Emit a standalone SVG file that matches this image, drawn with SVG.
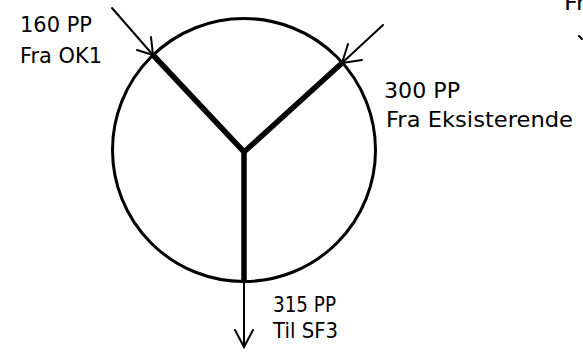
<svg xmlns="http://www.w3.org/2000/svg" width="583" height="352" viewBox="0 0 583 352">
<style>
.t{font-family:"DejaVu Sans","Liberation Sans",sans-serif;font-size:22px;fill:#000}
.thin{stroke:#000;stroke-width:2;fill:none;stroke-linecap:round}
.thick{stroke:#000;stroke-width:5.5;fill:none;stroke-linejoin:miter}
</style>
<rect width="583" height="352" fill="#fff"/>
<g id="node-circle">
<circle cx="244" cy="150" r="131.5" fill="none" stroke="#000" stroke-width="3"/>
</g>
<g id="connectors">
<polyline class="thick" points="153,55 244,152 342,63"/>
<line class="thick" x1="244" y1="150" x2="244" y2="282"/>
<line class="thin" x1="112" y1="8" x2="153" y2="55"/>
<polyline class="thin" points="151,37 153,55 137,50"/>
<line class="thin" x1="383" y1="25" x2="342" y2="63"/>
<polyline class="thin" points="348,44 342,63 362,60"/>
<line class="thin" x1="244" y1="282" x2="244" y2="347"/>
<polyline class="thin" points="235,330 244,347 253,330"/>
<line class="thin" x1="579" y1="36" x2="582" y2="39"/>
</g>
<g id="label-in1">
<text class="t" x="20" y="32" textLength="72" lengthAdjust="spacingAndGlyphs">160 PP</text>
<text class="t" x="20" y="63" textLength="82" lengthAdjust="spacingAndGlyphs">Fra OK1</text>
</g>
<g id="label-in2">
<text class="t" x="384" y="98" textLength="76" lengthAdjust="spacingAndGlyphs">300 PP</text>
<text class="t" x="386" y="127" textLength="187" lengthAdjust="spacingAndGlyphs">Fra Eksisterende</text>
</g>
<g id="label-out">
<text class="t" x="273" y="312" textLength="63" lengthAdjust="spacingAndGlyphs">315 PP</text>
<text class="t" x="273" y="338" textLength="65" lengthAdjust="spacingAndGlyphs">Til SF3</text>
</g>
<g id="label-cut">
<text class="t" x="564" y="10" textLength="22" lengthAdjust="spacingAndGlyphs">Fr</text>
</g>
</svg>
